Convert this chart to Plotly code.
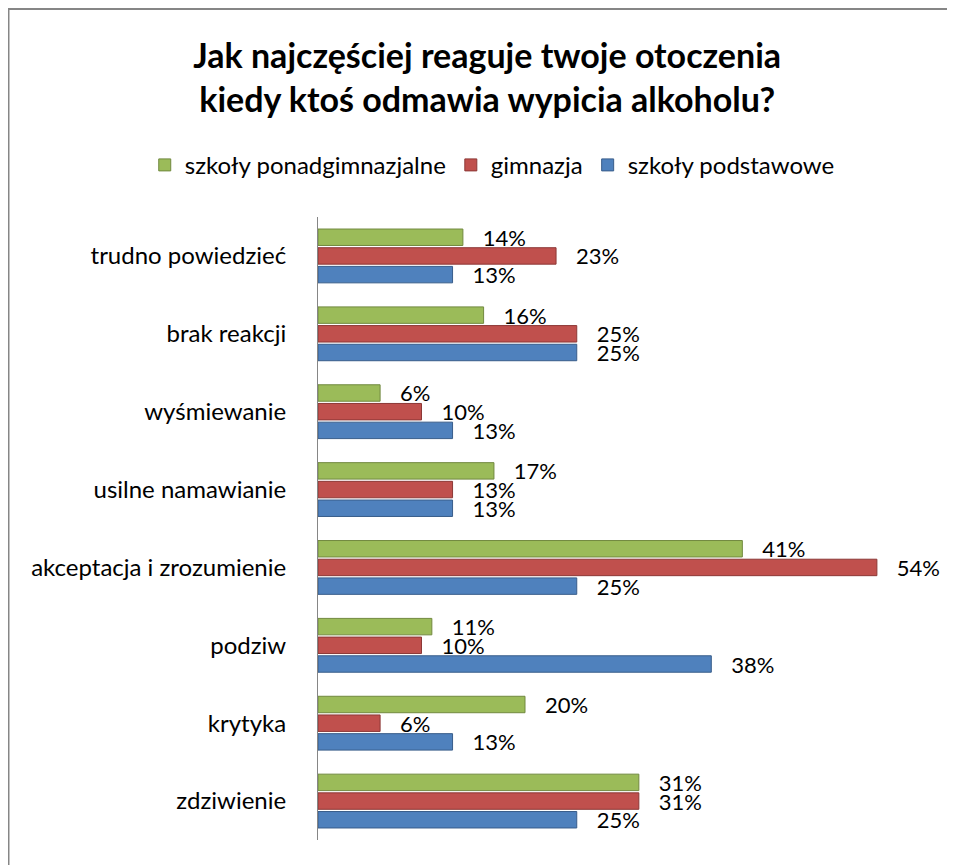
import plotly.graph_objects as go

# Kategorie (od dołu do góry, jak w plotly)
categories = [
    'zdziwienie', 'krytyka', 'podziw', 'akceptacja i zrozumienie',
    'usilne namawianie', 'wyśmiewanie', 'brak reakcji', 'trudno powiedzieć'
]

# Wartości w procentach
podstawowe = [25, 13, 38, 25, 13, 13, 25, 13]
gimnazja = [31, 6, 10, 54, 13, 10, 25, 23]
ponadgimnazjalne = [31, 20, 11, 41, 17, 6, 16, 14]

series = [
    ('szkoły podstawowe', podstawowe, '#4F81BD', '#385D8A'),
    ('gimnazja', gimnazja, '#C0504D', '#8C3836'),
    ('szkoły ponadgimnazjalne', ponadgimnazjalne, '#9BBB59', '#71893F'),
]

FONT = 'Lato'

fig = go.Figure()
for name, values, color, edge in series:
    fig.add_trace(go.Bar(
        y=categories,
        x=values,
        name=name,
        orientation='h',
        marker=dict(color=color, line=dict(color=edge, width=1)),
        text=[f'{v}%' for v in values],
        texttemplate='   %{text}',
        textposition='outside',
        constraintext='none',
        textfont=dict(size=22, color='#000000', family=FONT),
        cliponaxis=False,
    ))

# strona ma 8px marginesu w body, więc figura jest o 8px mniejsza
fig.update_layout(
    width=947,
    height=857,
    paper_bgcolor='white',
    plot_bgcolor='white',
    font=dict(family=FONT, color='#000000'),
    title=dict(
        text='<b>Jak najczęściej reaguje twoje otoczenia<br>kiedy ktoś odmawia wypicia alkoholu?</b>',
        x=0.506, xanchor='center',
        y=0.93, yanchor='middle',
        font=dict(size=34, family=FONT, color='#000000'),
    ),
    barmode='group',
    bargap=0.28,
    bargroupgap=0.12,
    margin=dict(l=310, r=16, t=209, b=25),
    showlegend=True,
    legend=dict(
        orientation='h',
        traceorder='reversed',
        x=-0.279, xanchor='left',
        y=1.083, yanchor='middle',
        font=dict(size=24, family=FONT),
        itemwidth=30,
    ),
    xaxis=dict(
        range=[0, 60],
        visible=False,
        showgrid=False,
        zeroline=False,
    ),
    yaxis=dict(
        showline=True,
        linecolor='#868686',
        linewidth=1,
        showgrid=False,
        ticks='',
        ticklabelstandoff=26,
        tickfont=dict(size=24, family=FONT),
    ),
    shapes=[dict(
        type='rect', xref='paper', yref='paper',
        x0=-0.4984, x1=1.0209, y0=-0.1, y1=1.3339,
        line=dict(color='#868686', width=2),
        fillcolor='rgba(0,0,0,0)',
        layer='below',
    )],
)

fig.write_html('out.html')
